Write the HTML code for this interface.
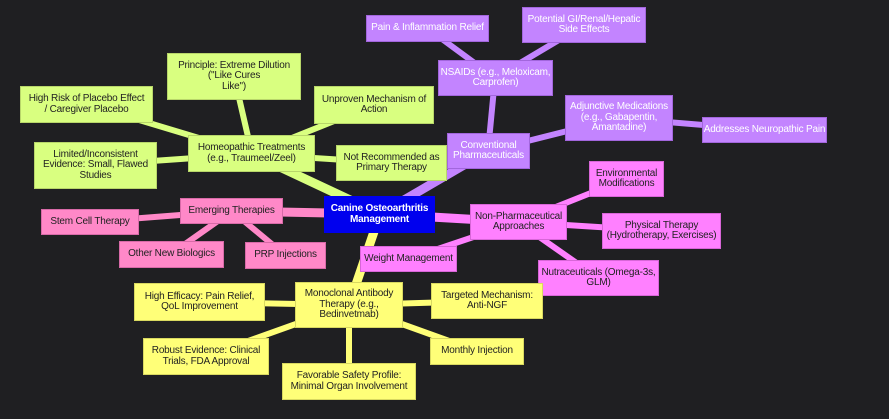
<!DOCTYPE html>
<html><head><meta charset="utf-8"><style>
body{margin:0;background:#1f1f22;}
#c{position:relative;width:889px;height:419px;overflow:hidden;background:#1f1f22;font-family:"Liberation Sans",sans-serif;font-size:10px;}
svg{position:absolute;left:0;top:0;}
.n{position:absolute;display:flex;align-items:center;justify-content:center;text-align:center;box-sizing:border-box;line-height:10.5px;white-space:nowrap;letter-spacing:-0.2px;}
.l{background:#d9ff80;color:#222;border:1px solid #b8d66a;}
.p{background:#ff88c8;color:#222;border:1px solid #d86aa8;}
.v{background:#c384ff;color:#fff;border:1px solid #a266dd;}
.m{background:#ff80ff;color:#222;border:1px solid #d866d8;}
.y{background:#ffff78;color:#222;border:1px solid #d8d860;}
.r{background:#0000ee;color:#fff;font-weight:bold;}
</style></head><body><div id="c">
<svg width="889" height="419">
<g stroke-linecap="round">
<line x1="380" y1="214" x2="252" y2="154" stroke="#d9ff80" stroke-width="9"/>
<line x1="380" y1="214" x2="488" y2="151" stroke="#c384ff" stroke-width="9"/>
<line x1="380" y1="214" x2="518" y2="222" stroke="#ff80ff" stroke-width="9"/>
<line x1="380" y1="214" x2="232" y2="211" stroke="#ff88c8" stroke-width="9"/>
<line x1="380" y1="214" x2="349" y2="305" stroke="#ffff78" stroke-width="9"/>
<g stroke="#d9ff80" stroke-width="6">
<line x1="252" y1="154" x2="234" y2="76"/><line x1="252" y1="154" x2="86" y2="104"/>
<line x1="252" y1="154" x2="374" y2="105"/><line x1="252" y1="154" x2="95" y2="165"/>
<line x1="252" y1="154" x2="391" y2="163"/></g>
<g stroke="#ff88c8" stroke-width="6">
<line x1="232" y1="211" x2="90" y2="222"/><line x1="232" y1="211" x2="171" y2="254"/><line x1="232" y1="211" x2="285" y2="255"/></g>
<g stroke="#c384ff" stroke-width="6">
<line x1="488" y1="151" x2="495" y2="78"/><line x1="495" y1="78" x2="427" y2="28"/><line x1="495" y1="78" x2="584" y2="25"/>
<line x1="488" y1="151" x2="619" y2="118"/><line x1="619" y1="118" x2="764" y2="130"/></g>
<g stroke="#ff80ff" stroke-width="6">
<line x1="518" y1="222" x2="626" y2="179"/><line x1="518" y1="222" x2="661" y2="231"/>
<line x1="518" y1="222" x2="598" y2="278"/><line x1="518" y1="222" x2="408" y2="259"/></g>
<g stroke="#ffff78" stroke-width="6">
<line x1="349" y1="305" x2="200" y2="302"/><line x1="349" y1="305" x2="487" y2="301"/>
<line x1="349" y1="305" x2="206" y2="356"/><line x1="349" y1="305" x2="349" y2="381"/>
<line x1="349" y1="305" x2="477" y2="351"/></g>
</g></svg>
<div class="n r" style="left:324px;top:196px;width:111px;height:37px">Canine Osteoarthritis<br>Management</div>
<div class="n l" style="left:188px;top:135px;width:127px;height:37px">Homeopathic Treatments<br>(e.g., Traumeel/Zeel)</div>
<div class="n l" style="left:167px;top:53px;width:134px;height:47px">Principle: Extreme Dilution<br>("Like Cures<br>Like")</div>
<div class="n l" style="left:20px;top:86px;width:133px;height:37px">High Risk of Placebo Effect<br>/ Caregiver Placebo</div>
<div class="n l" style="left:314px;top:86px;width:120px;height:38px">Unproven Mechanism of<br>Action</div>
<div class="n l" style="left:34px;top:142px;width:123px;height:47px">Limited/Inconsistent<br>Evidence: Small, Flawed<br>Studies</div>
<div class="n l" style="left:336px;top:145px;width:111px;height:36px">Not Recommended as<br>Primary Therapy</div>
<div class="n p" style="left:180px;top:198px;width:103px;height:26px">Emerging Therapies</div>
<div class="n p" style="left:41px;top:209px;width:98px;height:26px">Stem Cell Therapy</div>
<div class="n p" style="left:119px;top:241px;width:105px;height:27px">Other New Biologics</div>
<div class="n p" style="left:245px;top:242px;width:81px;height:27px">PRP Injections</div>
<div class="n v" style="left:366px;top:15px;width:123px;height:27px">Pain &amp; Inflammation Relief</div>
<div class="n v" style="left:522px;top:7px;width:124px;height:36px">Potential GI/Renal/Hepatic<br>Side Effects</div>
<div class="n v" style="left:438px;top:60px;width:115px;height:36px">NSAIDs (e.g., Meloxicam,<br>Carprofen)</div>
<div class="n v" style="left:447px;top:133px;width:83px;height:36px">Conventional<br>Pharmaceuticals</div>
<div class="n v" style="left:565px;top:95px;width:108px;height:46px">Adjunctive Medications<br>(e.g., Gabapentin,<br>Amantadine)</div>
<div class="n v" style="left:702px;top:117px;width:125px;height:26px">Addresses Neuropathic Pain</div>
<div class="n m" style="left:589px;top:161px;width:75px;height:36px">Environmental<br>Modifications</div>
<div class="n m" style="left:470px;top:204px;width:97px;height:36px">Non-Pharmaceutical<br>Approaches</div>
<div class="n m" style="left:602px;top:213px;width:119px;height:36px">Physical Therapy<br>(Hydrotherapy, Exercises)</div>
<div class="n m" style="left:538px;top:260px;width:121px;height:36px">Nutraceuticals (Omega-3s,<br>GLM)</div>
<div class="n m" style="left:360px;top:246px;width:97px;height:26px">Weight Management</div>
<div class="n y" style="left:295px;top:282px;width:108px;height:46px">Monoclonal Antibody<br>Therapy (e.g.,<br>Bedinvetmab)</div>
<div class="n y" style="left:134px;top:283px;width:131px;height:38px">High Efficacy: Pain Relief,<br>QoL Improvement</div>
<div class="n y" style="left:431px;top:283px;width:112px;height:36px">Targeted Mechanism:<br>Anti-NGF</div>
<div class="n y" style="left:143px;top:338px;width:126px;height:37px">Robust Evidence: Clinical<br>Trials, FDA Approval</div>
<div class="n y" style="left:282px;top:363px;width:134px;height:37px">Favorable Safety Profile:<br>Minimal Organ Involvement</div>
<div class="n y" style="left:430px;top:338px;width:94px;height:27px">Monthly Injection</div>
</div></body></html>
